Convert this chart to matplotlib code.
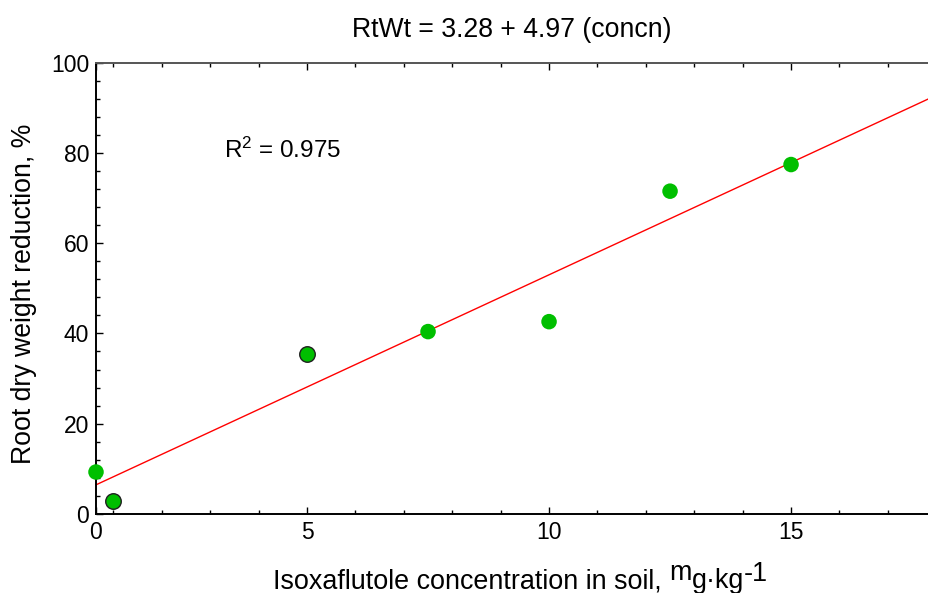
import matplotlib
matplotlib.use("Agg")
import matplotlib.pyplot as plt
from matplotlib.ticker import FixedLocator, MultipleLocator
from matplotlib.transforms import offset_copy
import numpy as np

plt.rcParams['font.family'] = ['Liberation Sans', 'DejaVu Sans']
plt.rcParams['mathtext.fontset'] = 'custom'
plt.rcParams['mathtext.rm'] = 'Liberation Sans'
plt.rcParams['mathtext.it'] = 'Liberation Sans'

# data (axis units)
conc_plain = [0.64, 7.5, 10.0, 12.5, 15.0]
red_plain = [9.3, 40.4, 42.6, 71.5, 77.4]
conc_edge = [1.0, 5.0]
red_edge = [2.9, 35.5]

# fitted line from the title
intercept = 3.28
slope = 4.97

x_ticks = [0.64, 5, 10, 15]
x_ticklabels = ['0', '5', '10', '15']
y_ticks = [0, 20, 40, 60, 80, 100]

W, H = 929, 593
fig = plt.figure(figsize=(W / 100, H / 100), dpi=100)
ax = fig.add_axes([96 / W, (H - 514) / H, 1 - 96 / W, (514 - 62.5) / H])

xmin, xmax = 0.64, 17.85
ax.set_xlim(xmin, xmax)
ax.set_ylim(0, 100)

xl = np.array([xmin, xmax])
ax.plot(xl, intercept + slope * xl, color='red', lw=1.0, zorder=2, clip_on=False)

ax.scatter(conc_plain, red_plain, s=125, color='#00bf00', edgecolors='none', zorder=3, clip_on=False)
ax.scatter(conc_edge, red_edge, s=125, color='#00bf00', edgecolors='#202020', linewidths=1.0, zorder=3, clip_on=False)

ax.text(3.28, 80.5, r'R$^2$ = 0.975', fontsize=17.5, va='center')

ax.xaxis.set_major_locator(FixedLocator(x_ticks))
ax.set_xticklabels(x_ticklabels)
ax.xaxis.set_minor_locator(FixedLocator([v for v in range(1, 18) if v % 5]))
ax.yaxis.set_major_locator(FixedLocator(y_ticks))
ax.yaxis.set_minor_locator(MultipleLocator(4))
ax.tick_params(which='both', direction='in', top=True, right=False, labelsize=16.5, width=1.0, color='black')
ax.tick_params(which='major', length=5, pad=5)
ax.tick_params(which='minor', length=3)

for s in ['left', 'bottom']:
    ax.spines[s].set_linewidth(1.4)
ax.spines['top'].set_color('#555555')
ax.spines['top'].set_linewidth(1.4)
ax.spines['right'].set_visible(False)

fig.text(512 / W, (H - 37) / H, 'RtWt = 3.28 + 4.97 (concn)', fontsize=19.2, ha='center', va='baseline')
fig.text(24 / W, (H - 294) / H, 'Root dry weight reduction, %', fontsize=19.2, rotation=90, ha='center', va='center')

# x label: raised "m" and "-1" as in the original
renderer = fig.canvas.get_renderer()
pieces = [('Isoxaflutole concentration in soil, ', 0), ('m', 8), ('g·kg', 0), ('-1', 7)]
x0 = 273 / W
y0 = (H - 588) / H
dx = 0
for txt, rise in pieces:
    tr = offset_copy(fig.transFigure, fig=fig, x=dx, y=rise, units='dots')
    t = fig.text(x0, y0, txt, fontsize=19.4, ha='left', va='baseline', transform=tr)
    dx += t.get_window_extent(renderer).width

fig.savefig('out.png', dpi=100)
